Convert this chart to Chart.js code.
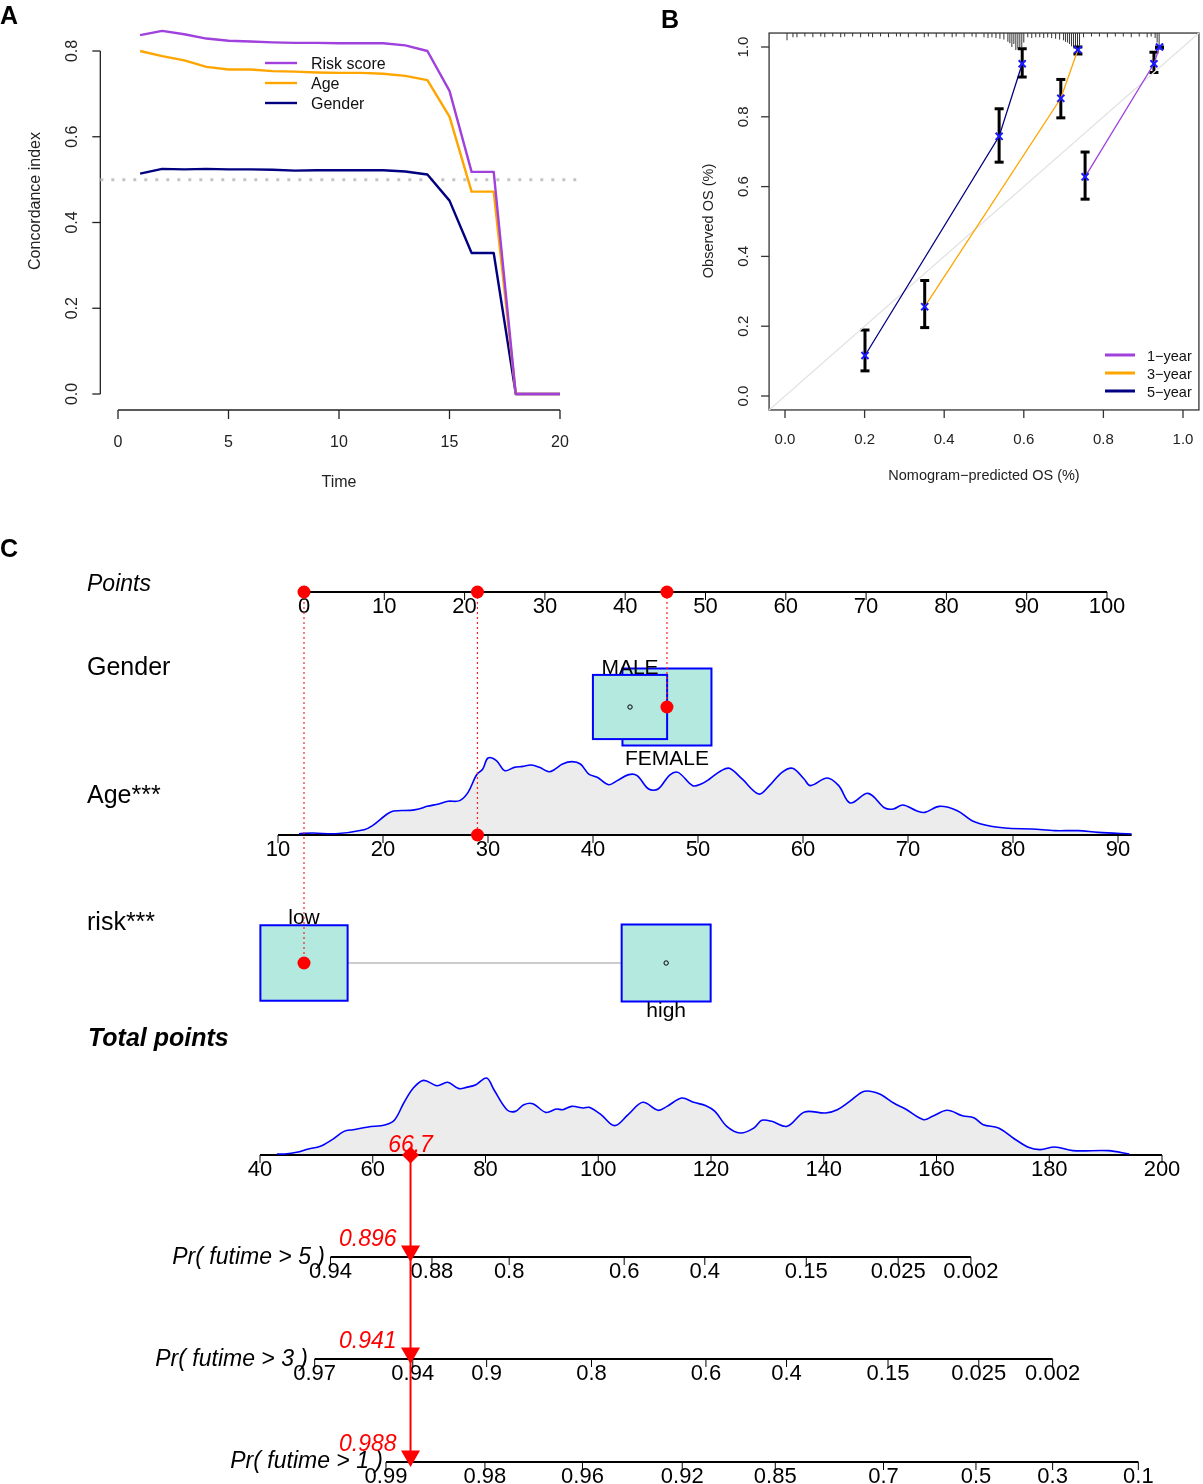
<!DOCTYPE html>
<html><head><meta charset="utf-8">
<script src="https://cdn.jsdelivr.net/npm/chart.js@4.4.1/dist/chart.umd.min.js"></script>
<style>
html,body{margin:0;padding:0;background:#fff;}
#wrap{position:relative;width:1203px;height:1484px;overflow:hidden;background:#fff;}
#wrap canvas{position:absolute;left:0;top:0;}
</style></head><body>
<div id="wrap">
<canvas id="cA" width="1203" height="1484"></canvas>
<canvas id="cB" width="1203" height="1484"></canvas>
<canvas id="cC" width="1203" height="1484"></canvas>
</div>
<script>
// ================= DATA =================
// Panel A: time-dependent C-index
const timePoints   = [1,2,3,4,5,6,7,8,9,10,11,12,13,14,15,16,17,18,19,20];
const cindexRisk   = [0.837,0.847,0.839,0.829,0.824,0.822,0.820,0.819,0.819,0.818,0.818,0.818,0.813,0.800,0.707,0.518,0.518,0,0,0];
const cindexAge    = [0.800,0.788,0.778,0.763,0.757,0.757,0.753,0.752,0.750,0.749,0.749,0.747,0.742,0.732,0.647,0.472,0.472,0,0,0];
const cindexGender = [0.514,0.525,0.524,0.525,0.524,0.524,0.523,0.521,0.522,0.522,0.522,0.522,0.519,0.512,0.451,0.329,0.329,0,0,0];
const cindexNames  = ['Risk score','Age','Gender'];
const timeTicks    = [0,5,10,15,20];
const cindexTicks  = [0,0.2,0.4,0.6,0.8];
const cindexRef    = 0.5;

// Panel B: calibration
const calNames = ['1\u2212year','3\u2212year','5\u2212year'];
const cal1Pred = [0.754,0.927,0.941];
const cal1Obs  = [0.628,0.952,1.000];
const cal1Lo   = [0.564,0.927,0.997];
const cal1Hi   = [0.699,0.985,1.000];
const cal3Pred = [0.351,0.693,0.736];
const cal3Obs  = [0.256,0.853,0.992];
const cal3Lo   = [0.196,0.797,0.980];
const cal3Hi   = [0.331,0.907,1.000];
const cal5Pred = [0.201,0.538,0.596];
const cal5Obs  = [0.116,0.744,0.952];
const cal5Lo   = [0.072,0.670,0.914];
const cal5Hi   = [0.189,0.823,0.995];
const calTicks = [0,0.2,0.4,0.6,0.8,1.0];
const rugPred = [0.005,0.02,0.03,0.05,0.07,0.09,0.10,0.12,0.14,0.15,0.17,0.19,0.21,0.22,0.24,0.26,0.28,0.29,0.31,0.33,0.35,0.36,0.38,0.40,0.42,0.43,0.45,0.47,0.48,0.50,0.51,0.52,0.53,0.54,0.55,0.56,0.565,0.57,0.575,0.58,0.585,0.59,0.595,0.60,0.61,0.62,0.63,0.64,0.65,0.66,0.67,0.68,0.69,0.70,0.705,0.71,0.715,0.72,0.725,0.73,0.735,0.74,0.75,0.77,0.79,0.81,0.83,0.85,0.87,0.89,0.91,0.92,0.93,0.935,0.94];
const rugFreq = [0.35,0.15,0.15,0.1,0.15,0.1,0.15,0.1,0.15,0.1,0.1,0.15,0.1,0.15,0.1,0.15,0.1,0.1,0.15,0.1,0.15,0.1,0.15,0.1,0.15,0.1,0.15,0.1,0.15,0.15,0.2,0.15,0.2,0.25,0.3,0.45,0.55,0.8,0.6,1.0,0.9,1.0,0.8,0.5,0.15,0.2,0.15,0.15,0.2,0.15,0.2,0.25,0.3,0.35,0.45,0.5,0.6,0.75,0.8,0.9,0.85,0.7,0.15,0.1,0.1,0.15,0.1,0.1,0.15,0.1,0.15,0.1,0.2,0.5,0.85];

// Panel C: nomogram
const pointsTicks = [0,10,20,30,40,50,60,70,80,90,100];
const genderLevels = ['MALE','FEMALE'];
const genderPoints = [40.6,45.2];
const genderFreq   = [0.41,0.59];
const riskLevels   = ['low','high'];
const riskPoints   = [0,45.1];
const riskFreq     = [0.49,0.51];
const ageTicks  = [10,20,30,40,50,60,70,80,90];
const ageRange  = [10,91.3];
const ageX    = [12,13.3,15.5,18.2,19,20.4,21,22.6,23.4,24.2,25.3,26.2,27.3,28.1,28.9,29.5,30,30.8,31.6,32.5,33.3,34.1,34.9,35.8,36.3,37.1,38,38.8,39.6,40.4,41.5,42.3,43.4,44.2,45.3,46.2,47.3,48.1,49.5,50.3,51.1,52.2,53,54.2,55.8,56.8,58,59,60.1,60.7,62.3,63.4,64.5,66.2,67.8,68.6,69.5,70.8,71.6,73,74.7,76.1,77.9,79.6,81.8,84,86.2,88.1,91.3];
const ageDens = [0.004,0.013,0.004,0.057,0.110,0.263,0.303,0.311,0.329,0.364,0.395,0.430,0.439,0.548,0.776,0.855,1.0,0.965,0.833,0.877,0.890,0.908,0.877,0.820,0.846,0.921,0.952,0.921,0.789,0.746,0.649,0.702,0.781,0.768,0.592,0.592,0.776,0.811,0.636,0.658,0.724,0.833,0.864,0.724,0.526,0.636,0.811,0.864,0.724,0.636,0.737,0.636,0.408,0.535,0.342,0.329,0.382,0.307,0.285,0.364,0.307,0.175,0.101,0.075,0.066,0.044,0.044,0.022,0];
const totalTicks = [40,60,80,100,120,140,160,180,200];
const totX    = [43,44.4,46.5,48.6,50.7,52.8,54.9,56.5,59.2,62.3,63.9,65.5,67.2,69,71.4,73.3,75.3,76.6,78.3,80.2,81.5,83.8,85.3,86.8,88.4,90.7,92.6,93.7,95.3,97.4,98.4,100.5,102.9,105.3,107.9,110.6,112.2,114.8,116.9,119.1,120.7,122.8,125.2,127.6,129,130.8,133.5,136.6,140.3,142.4,144.6,147.2,149.8,152.4,154.5,157.7,159.3,161.9,164.6,166.7,168.3,171,173.6,176.3,178.4,181,184.2,190.5,194.2];
const totDens = [0,0,0.022,0.066,0.101,0.189,0.298,0.320,0.355,0.386,0.452,0.671,0.868,0.969,0.899,0.943,0.860,0.877,0.912,1.0,0.846,0.583,0.561,0.649,0.662,0.548,0.592,0.583,0.627,0.605,0.614,0.518,0.373,0.518,0.680,0.575,0.627,0.737,0.680,0.636,0.561,0.364,0.276,0.342,0.443,0.430,0.364,0.553,0.539,0.583,0.693,0.825,0.794,0.671,0.592,0.452,0.496,0.575,0.504,0.474,0.386,0.342,0.211,0.088,0.057,0.092,0.044,0.044,0];
const pr5Labels = ['0.94','0.88','0.8','0.6','0.4','0.15','0.025','0.002'];
const pr5Pos    = [52.5,70.5,84.2,104.6,118.9,136.9,153.2,166.1];
const pr3Labels = ['0.97','0.94','0.9','0.8','0.6','0.4','0.15','0.025','0.002'];
const pr3Pos    = [49.7,67.1,80.2,98.8,119.1,133.4,151.4,167.5,180.6];
const pr1Labels = ['0.99','0.98','0.96','0.92','0.85','0.7','0.5','0.3','0.1'];
const pr1Pos    = [62.35,79.9,97.2,114.9,131.4,150.6,167,180.6,195.8];
// selected patient
const selGender = 'FEMALE';
const selAge    = 29;
const selAgePoints = 21.6;
const selRisk   = 'low';
const selTotal  = 66.7;
const selProb   = [0.896,0.941,0.988]; // 5, 3, 1 year

// ================= HELPERS =================
const W = 1203, H = 1484;
const FONT = '"Liberation Sans", Arial, Helvetica, sans-serif';
Chart.defaults.font.family = FONT;
function fitScale(v0, p0, v1, p1, a0, a1) {
  const k = (v1 - v0) / (p1 - p0);
  return { min: v0 + (a0 - p0) * k, max: v0 + (a1 - p0) * k };
}
function hs(axis, r, extra) {
  return Object.assign({ type: 'linear', axis: axis, display: false, bounds: 'data', min: r.min, max: r.max, grid: { display: false } }, extra || {});
}
function seg(ctx, x1, y1, x2, y2) { ctx.beginPath(); ctx.moveTo(x1, y1); ctx.lineTo(x2, y2); ctx.stroke(); }
function txt(ctx, s, x, y, font, color, align, rot) {
  ctx.save(); ctx.font = font; ctx.fillStyle = color || '#000'; ctx.textAlign = align || 'left'; ctx.textBaseline = 'alphabetic';
  ctx.translate(x, y); if (rot) ctx.rotate(rot); ctx.fillText(s, 0, 0); ctx.restore();
}
const baseOpts = {
  responsive: false, animation: false, events: [],
  layout: { padding: 0, autoPadding: false },
  plugins: { legend: { display: false }, tooltip: { enabled: false }, title: { display: false } }
};
const COL_PURPLE = '#A040DD', COL_ORANGE = '#FFA500', COL_NAVY = '#000080';
const xy = (xs, ys) => xs.map((x, i) => ({ x: x, y: ys[i] }));

// ================= PANEL A =================
(function () {
  const lineColors = [COL_PURPLE, COL_ORANGE, COL_NAVY];
  const series = [cindexRisk, cindexAge, cindexGender];
  const usrX = [-0.8, 20.8];
  const datasets = series.map((s, i) => ({
    type: 'line', data: xy(timePoints, s), borderColor: lineColors[i], borderWidth: 2.4,
    pointRadius: 0, tension: 0, fill: false, borderJoinStyle: 'round', order: 2
  }));
  datasets.push({ type: 'line', data: [{ x: usrX[0], y: cindexRef }, { x: usrX[1], y: cindexRef }],
    borderColor: '#c4c4c4', borderWidth: 3, borderDash: [3, 8], pointRadius: 0, order: 5 });
  const plug = {
    id: 'panelA',
    beforeDatasetsDraw(chart) {
      const ctx = chart.ctx, xs = chart.scales.x, ys = chart.scales.y;
      ctx.save(); ctx.strokeStyle = '#222'; ctx.lineWidth = 1.3;
      const ax = xs.getPixelForValue(usrX[0]);
      seg(ctx, ax, ys.getPixelForValue(cindexTicks[0]), ax, ys.getPixelForValue(cindexTicks[cindexTicks.length - 1]));
      cindexTicks.forEach(v => { const y = ys.getPixelForValue(v); seg(ctx, ax, y, ax - 8, y);
        txt(ctx, v.toFixed(1), 77, y, '16px ' + FONT, '#222', 'center', -Math.PI / 2); });
      const ay = 410;
      seg(ctx, xs.getPixelForValue(timeTicks[0]), ay, xs.getPixelForValue(timeTicks[timeTicks.length - 1]), ay);
      timeTicks.forEach(v => { const x = xs.getPixelForValue(v); seg(ctx, x, ay, x, ay + 9);
        txt(ctx, String(v), x, 447, '16px ' + FONT, '#222', 'center'); });
      txt(ctx, 'Time', 339, 487, '16px ' + FONT, '#222', 'center');
      txt(ctx, 'Concordance index', 40, 201, '16px ' + FONT, '#222', 'center', -Math.PI / 2);
      // legend
      cindexNames.forEach((n, i) => {
        const y = 63 + i * 20;
        ctx.strokeStyle = lineColors[i]; ctx.lineWidth = 2.4; seg(ctx, 265, y, 297, y);
        txt(ctx, n, 311, y + 6, '16px ' + FONT, '#111', 'left');
      });
      txt(ctx, 'A', 0, 24, 'bold 25px ' + FONT, '#000', 'left');
      ctx.restore();
    }
  };
  new Chart(document.getElementById('cA'), {
    type: 'scatter', data: { datasets: datasets },
    options: Object.assign({}, baseOpts, { scales: {
      x: hs('x', fitScale(0, 118, 20, 560, 0, W)),
      y: hs('y', fitScale(0, 394, 0.8, 51, H, 0))
    } }),
    plugins: [plug]
  });
})();

// ================= PANEL B =================
(function () {
  const groups = [
    { pred: cal1Pred, obs: cal1Obs, lo: cal1Lo, hi: cal1Hi, col: COL_PURPLE },
    { pred: cal3Pred, obs: cal3Obs, lo: cal3Lo, hi: cal3Hi, col: COL_ORANGE },
    { pred: cal5Pred, obs: cal5Obs, lo: cal5Lo, hi: cal5Hi, col: COL_NAVY }
  ];
  const usr = [-0.04, 1.04];
  const datasets = [];
  groups.forEach(g => datasets.push({
    type: 'line', data: xy(g.pred, g.obs), borderColor: g.col, borderWidth: 1.3, tension: 0,
    pointStyle: 'crossRot', pointRadius: 5, pointBorderColor: '#1a1aff', pointBackgroundColor: '#1a1aff',
    pointBorderWidth: 2, order: 2
  }));
  datasets.push({ type: 'line', data: [{ x: usr[0], y: usr[0] }, { x: usr[1], y: usr[1] }],
    borderColor: '#e3e3e3', borderWidth: 1.3, pointRadius: 0, order: 6 });
  const plug = {
    id: 'panelB',
    beforeDatasetsDraw(chart) {
      const ctx = chart.ctx, xs = chart.scales.x, ys = chart.scales.y;
      const L = xs.getPixelForValue(usr[0]), R = xs.getPixelForValue(usr[1]);
      const T = ys.getPixelForValue(usr[1]), B = ys.getPixelForValue(usr[0]);
      ctx.save();
      ctx.strokeStyle = '#333'; ctx.lineWidth = 1.3;
      ctx.strokeRect(L, T, R - L, B - T);
      calTicks.forEach(v => { const x = xs.getPixelForValue(v); seg(ctx, x, B, x, B + 8);
        txt(ctx, v.toFixed(1), x, 444, '15px ' + FONT, '#222', 'center'); });
      calTicks.forEach(v => { const y = ys.getPixelForValue(v); seg(ctx, L, y, L - 8, y);
        txt(ctx, v.toFixed(1), 748, y, '15px ' + FONT, '#222', 'center', -Math.PI / 2); });
      txt(ctx, 'Nomogram\u2212predicted OS (%)', 984, 480, '14.5px ' + FONT, '#222', 'center');
      txt(ctx, 'Observed OS (%)', 713, 221, '14.5px ' + FONT, '#222', 'center', -Math.PI / 2);
      // rug
      ctx.strokeStyle = '#333'; ctx.lineWidth = 1;
      rugPred.forEach((p, i) => { const x = xs.getPixelForValue(p); seg(ctx, x, T, x, T + 2 + rugFreq[i] * 15); });
      // error bars
      ctx.strokeStyle = '#000'; ctx.lineWidth = 3;
      groups.forEach(g => g.pred.forEach((p, i) => {
        const x = xs.getPixelForValue(p), y1 = ys.getPixelForValue(g.lo[i]), y2 = ys.getPixelForValue(g.hi[i]);
        seg(ctx, x, y1, x, y2); seg(ctx, x - 4.5, y1, x + 4.5, y1); seg(ctx, x - 4.5, y2, x + 4.5, y2);
      }));
      // legend
      calNames.forEach((n, i) => {
        const y = 355 + i * 18;
        ctx.strokeStyle = groups[i].col; ctx.lineWidth = 3; seg(ctx, 1105, y, 1135, y);
        txt(ctx, n, 1147, y + 6, '14.5px ' + FONT, '#111', 'left');
      });
      txt(ctx, 'B', 661, 28, 'bold 25px ' + FONT, '#000', 'left');
      ctx.restore();
    }
  };
  new Chart(document.getElementById('cB'), {
    type: 'scatter', data: { datasets: datasets },
    options: Object.assign({}, baseOpts, { scales: {
      x: hs('x', fitScale(0, 785, 1, 1183, 0, W)),
      y: hs('y', fitScale(0, 396, 1, 47, H, 0))
    } }),
    plugins: [plug]
  });
})();

// ================= PANEL C =================
(function () {
  const ROW = { points: 592, gender: 707, age: 835, risk: 963, total: 1155, pr5: 1257, pr3: 1359, pr1: 1462 };
  const BOX_W = 89, BOX_H = 77;
  const selGenderPts = genderPoints[genderLevels.indexOf(selGender)];
  const selRiskPts = riskPoints[riskLevels.indexOf(selRisk)];
  const otherGenderPts = genderPoints[1 - genderLevels.indexOf(selGender)];
  const otherRiskPts = riskPoints[1 - riskLevels.indexOf(selRisk)];
  const prRows = [ROW.pr5, ROW.pr3, ROW.pr1];
  const datasets = [
    { type: 'scatter', xAxisID: 'x', yAxisID: 'y', order: 1,
      data: [{ x: selRiskPts, y: ROW.points }, { x: selAgePoints, y: ROW.points }, { x: selGenderPts, y: ROW.points },
             { x: selGenderPts, y: ROW.gender }, { x: selRiskPts, y: ROW.risk }],
      pointRadius: 6.5, pointBackgroundColor: '#ff0000', pointBorderColor: '#ff0000', pointBorderWidth: 0 },
    { type: 'scatter', xAxisID: 'xAge', yAxisID: 'y', order: 1, data: [{ x: selAge, y: ROW.age }],
      pointRadius: 6.5, pointBackgroundColor: '#ff0000', pointBorderColor: '#ff0000', pointBorderWidth: 0 },
    { type: 'scatter', xAxisID: 'x', yAxisID: 'y', order: 1,
      data: [{ x: otherGenderPts, y: ROW.gender }, { x: otherRiskPts, y: ROW.risk }],
      pointRadius: 2.2, pointBackgroundColor: 'rgba(0,0,0,0)', pointBorderColor: '#000', pointBorderWidth: 1 },
    { type: 'scatter', xAxisID: 'xTot', yAxisID: 'y', order: 1, data: [{ x: selTotal, y: ROW.total }],
      pointStyle: 'rectRot', pointRadius: 8.5, pointBackgroundColor: '#ff0000', pointBorderColor: '#ff0000', pointBorderWidth: 0 },
    { type: 'scatter', xAxisID: 'xTot', yAxisID: 'y', order: 1,
      data: prRows.map(r => ({ x: selTotal, y: r - 6 })),
      pointStyle: 'triangle', rotation: 180, pointRadius: 11, pointBackgroundColor: '#ff0000', pointBorderColor: '#ff0000', pointBorderWidth: 0 },
    { type: 'line', xAxisID: 'xTot', yAxisID: 'y', order: 4, data: [{ x: selTotal, y: ROW.total }, { x: selTotal, y: ROW.pr1 }],
      borderColor: '#ff0000', borderWidth: 2, pointRadius: 0 },
    { type: 'line', xAxisID: 'x', yAxisID: 'y', order: 4,
      data: [{ x: selRiskPts, y: ROW.points }, { x: selRiskPts, y: ROW.risk }, { x: selRiskPts, y: null },
             { x: selAgePoints, y: ROW.points }, { x: selAgePoints, y: ROW.age }, { x: selAgePoints, y: null },
             { x: selGenderPts, y: ROW.points }, { x: selGenderPts, y: ROW.gender }],
      borderColor: '#ff2020', borderWidth: 1.2, borderDash: [2, 3], pointRadius: 0, spanGaps: false },
    { type: 'line', xAxisID: 'xAge', yAxisID: 'yAge', order: 10, data: xy(ageX, ageDens), fill: 'origin',
      backgroundColor: '#ececec', borderColor: '#0000ff', borderWidth: 1.6, pointRadius: 0, tension: 0.35 },
    { type: 'line', xAxisID: 'xTot', yAxisID: 'yTot', order: 10, data: xy(totX, totDens), fill: 'origin',
      backgroundColor: '#ececec', borderColor: '#0000ff', borderWidth: 1.6, pointRadius: 0, tension: 0.35 }
  ];
  function axis(ctx, scale, y, from, to, ticks, labels) {
    ctx.strokeStyle = '#000'; ctx.lineWidth = 2;
    seg(ctx, scale.getPixelForValue(from), y, scale.getPixelForValue(to), y);
    ctx.lineWidth = 1;
    ticks.forEach((v, i) => {
      const x = scale.getPixelForValue(v);
      seg(ctx, x, y, x, y + 8);
      txt(ctx, labels[i], x, y + 21, '22px ' + FONT, '#000', 'center');
    });
  }
  function boxes(ctx, xs, y, pts, freq, levels) {
    const mx = Math.max.apply(null, freq);
    const order = pts.map((p, i) => i).sort((a, b) => freq[b] - freq[a]);
    order.forEach(i => {
      const f = Math.sqrt(freq[i] / mx), w = BOX_W * f, h = BOX_H * f, x = xs.getPixelForValue(pts[i]);
      ctx.fillStyle = '#b4e9e0'; ctx.fillRect(x - w / 2, y - h / 2, w, h);
      ctx.strokeStyle = '#0000ff'; ctx.lineWidth = 2; ctx.strokeRect(x - w / 2, y - h / 2, w, h);
    });
    levels.forEach((lv, i) => {
      const f = Math.sqrt(freq[i] / mx), h = BOX_H * f, x = xs.getPixelForValue(pts[i]);
      if (i === 0) txt(ctx, lv, x, y - h / 2 - 1, '21px ' + FONT, '#000', 'center');
      else txt(ctx, lv, x, y + h / 2 + (lv === 'high' ? 15 : 19), '21px ' + FONT, '#000', 'center');
    });
  }
  const plug = {
    id: 'panelC',
    beforeDatasetsDraw(chart) {
      const ctx = chart.ctx, xs = chart.scales.x, xa = chart.scales.xAge, xt = chart.scales.xTot;
      ctx.save();
      txt(ctx, 'C', 0, 557, 'bold 25px ' + FONT, '#000', 'left');
      txt(ctx, 'Points', 87, 591, 'italic 23px ' + FONT, '#000', 'left');
      txt(ctx, 'Gender', 87, 675, '25px ' + FONT, '#000', 'left');
      txt(ctx, 'Age***', 87, 803, '25px ' + FONT, '#000', 'left');
      txt(ctx, 'risk***', 87, 930, '25px ' + FONT, '#000', 'left');
      txt(ctx, 'Total points', 88, 1046, 'bold italic 25px ' + FONT, '#000', 'left');
      txt(ctx, 'Pr( futime > 5 )', 325, 1264, 'italic 23px ' + FONT, '#000', 'right');
      txt(ctx, 'Pr( futime > 3 )', 308, 1366, 'italic 23px ' + FONT, '#000', 'right');
      txt(ctx, 'Pr( futime > 1 )', 383, 1468, 'italic 23px ' + FONT, '#000', 'right');
      axis(ctx, xs, ROW.points, pointsTicks[0], pointsTicks[pointsTicks.length - 1], pointsTicks, pointsTicks.map(String));
      axis(ctx, xa, ROW.age, ageRange[0], ageRange[1], ageTicks, ageTicks.map(String));
      axis(ctx, xt, ROW.total, totalTicks[0], totalTicks[totalTicks.length - 1], totalTicks, totalTicks.map(String));
      axis(ctx, xt, ROW.pr5, pr5Pos[0], pr5Pos[pr5Pos.length - 1], pr5Pos, pr5Labels);
      axis(ctx, xt, ROW.pr3, pr3Pos[0], pr3Pos[pr3Pos.length - 1], pr3Pos, pr3Labels);
      axis(ctx, xt, ROW.pr1, pr1Pos[0], pr1Pos[pr1Pos.length - 1], pr1Pos, pr1Labels);
      ctx.strokeStyle = '#cccccc'; ctx.lineWidth = 2;
      seg(ctx, xs.getPixelForValue(riskPoints[0]), ROW.risk, xs.getPixelForValue(riskPoints[1]), ROW.risk);
      boxes(ctx, xs, ROW.gender, genderPoints, genderFreq, genderLevels);
      boxes(ctx, xs, ROW.risk, riskPoints, riskFreq, riskLevels);
      ctx.restore();
    },
    afterDatasetsDraw(chart) {
      const ctx = chart.ctx, xt = chart.scales.xTot;
      const x = xt.getPixelForValue(selTotal);
      txt(ctx, selTotal.toFixed(1), x, ROW.total - 3, 'italic 23px ' + FONT, '#ff0000', 'center');
      selProb.forEach((p, i) => txt(ctx, p.toFixed(3), x - 14, prRows[i] - 11, 'italic 23px ' + FONT, '#ff0000', 'right'));
    }
  };
  new Chart(document.getElementById('cC'), {
    type: 'scatter', data: { datasets: datasets },
    options: Object.assign({}, baseOpts, { scales: {
      x: hs('x', fitScale(0, 304, 100, 1107, 0, W)),
      xAge: hs('x', fitScale(10, 278, 90, 1118, 0, W)),
      xTot: hs('x', fitScale(40, 260, 200, 1162, 0, W)),
      y: hs('y', { min: 0, max: H }, { reverse: true }),
      yAge: hs('y', fitScale(0, 834, 1, 758, H, 0)),
      yTot: hs('y', fitScale(0, 1154, 1, 1078, H, 0))
    } }),
    plugins: [plug]
  });
})();
</script>
</body></html>
